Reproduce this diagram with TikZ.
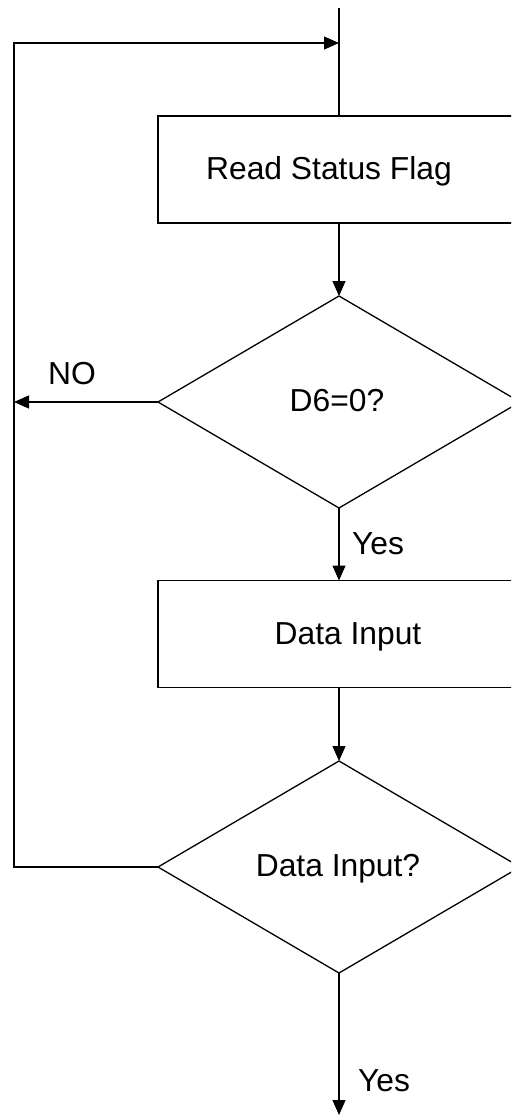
\documentclass[tikz,border=0pt]{standalone}
\usepackage{fontspec}
\setmainfont{Liberation Sans}
\usetikzlibrary{shapes.geometric,arrows.meta}
\begin{document}
\begin{tikzpicture}[x=1pt,y=-1pt,
  every node/.style={font=\fontsize{31.8}{38}\selectfont},
  procbox/.style={draw, line width=1.3pt, rectangle, minimum width=362pt, minimum height=107pt, inner sep=0pt, outer sep=0pt},
  decbox/.style={draw, line width=1.3pt, diamond, minimum width=362pt, minimum height=212pt, inner sep=0pt, outer sep=0pt},
  txt/.style={inner sep=0pt, anchor=base},
  conn/.style={line width=1.2pt},
  arr/.style={conn, -{Triangle[length=15pt,width=13pt]}}]
\useasboundingbox (0,0) rectangle (511,1115);
\clip (0,0) rectangle (511,1115);
\fill[white] (0,0) rectangle (511,1115);
% nodes
\node[procbox] (b1) at (339,169.5) {};
\node[txt] (t1) at (329,180) {Read Status Flag};
\node[decbox] (d1) at (339,402) {};
\node[txt] (t2) at (337,411) {D6=0?};
\node[procbox] (b2) at (339,634) {};
\node[txt] (t3) at (348,644) {Data Input};
\node[decbox] (d2) at (339,867) {};
\node[txt] (t4) at (338,876) {Data Input?};
% labels
\node[txt] (no) at (72,384) {NO};
\node[txt] (yes1) at (378,554) {Yes};
\node[txt] (yes2) at (384,1091) {Yes};
% coordinates
\coordinate (start) at (339,8);
\coordinate (j) at (339,43);
\coordinate (lb) at (14,867);
\coordinate (nl) at (14,402);
\coordinate (end) at (339,1115);
% connectors
\draw[conn] (start) -- (b1.north);
\draw[arr] (b1.south) -- (d1.north);
\draw[arr] (d1.west) -- (nl);
\draw[arr] (d1.south) -- (b2.north);
\draw[arr] (b2.south) -- (d2.north);
\draw[arr] (d2.west) -- (lb) |- (j);
\draw[arr] (d2.south) -- (end);
\end{tikzpicture}
\end{document}
